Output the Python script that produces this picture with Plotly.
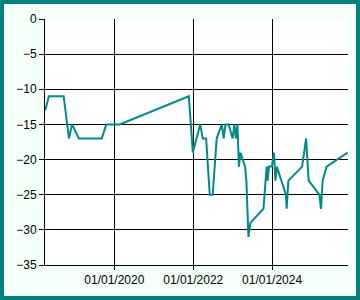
import plotly.graph_objects as go

dates = [
    "2018-04-01", "2018-05-05", "2018-09-19", "2018-11-07", "2018-12-05",
    "2019-02-07", "2019-09-06", "2019-10-19", "2020-02-19", "2021-11-21",
    "2021-12-28", "2022-03-06", "2022-03-30", "2022-04-30", "2022-06-03",
    "2022-06-30", "2022-08-06", "2022-09-22", "2022-10-10", "2022-10-26",
    "2022-11-25", "2023-01-01", "2023-01-17", "2023-01-31", "2023-02-14",
    "2023-02-28", "2023-03-14", "2023-04-06", "2023-04-26", "2023-05-08",
    "2023-05-27", "2023-06-14", "2023-10-13", "2023-11-12", "2023-11-21",
    "2023-12-02", "2023-12-30", "2024-01-18", "2024-02-01", "2024-02-14",
    "2024-05-08", "2024-05-15", "2024-05-31", "2024-10-05", "2024-11-11",
    "2024-12-05", "2025-03-14", "2025-03-29", "2025-04-13", "2025-05-20",
    "2025-12-01",
]
values = [
    -13, -11, -11, -17, -15,
    -17, -17, -15, -15, -11,
    -19, -15, -17, -17, -25,
    -25, -17, -15, -17, -15,
    -15, -17, -15, -17, -15,
    -21, -19, -20, -21, -23,
    -31, -29, -27, -21, -23,
    -21, -21, -19, -23, -21,
    -25, -27, -23, -21, -17,
    -23, -25, -27, -23, -21,
    -19,
]

x_tickvals = ["2020-01-01", "2022-01-01", "2024-01-01"]
x_ticktext = ["01/01/2020", "01/01/2022", "01/01/2024"]
x_range = ["2018-03-30", "2025-12-04"]
y_range = [-35, 0]

W, H = 360, 300
ML, MR, MT, MB = 45, 12, 19, 35
pw = W - ML - MR
ph = H - MT - MB

fig = go.Figure()
fig.add_trace(go.Scatter(
    x=dates, y=values, mode="lines",
    line=dict(color="#008B8B", width=2),
    hoverinfo="skip",
))

def px_x(p):
    return (p - ML) / pw

def px_y(p):
    return (H - MB - p) / ph

fig.add_shape(
    type="rect", xref="paper", yref="paper",
    x0=px_x(2), x1=px_x(W - 2), y0=px_y(2), y1=px_y(H - 2),
    line=dict(color="#008080", width=4), fillcolor="rgba(0,0,0,0)",
    layer="above",
)

fig.update_layout(
    width=W, height=H,
    margin=dict(l=ML, r=MR, t=MT, b=MB, pad=0),
    paper_bgcolor="#F5FFFA",
    plot_bgcolor="#FFFFFF",
    showlegend=False,
    font=dict(family="Liberation Sans, Arial, sans-serif", size=12, color="#000000"),
    xaxis=dict(
        range=x_range, type="date",
        tickvals=x_tickvals, ticktext=x_ticktext,
        showgrid=True, gridcolor="#000000", gridwidth=1,
        showline=True, linecolor="#000000", linewidth=1,
        ticks="outside", ticklen=4, tickcolor="#000000",
        zeroline=False, fixedrange=True,
    ),
    yaxis=dict(
        range=y_range, dtick=5, tick0=0,
        showgrid=True, gridcolor="#000000", gridwidth=1,
        showline=True, linecolor="#000000", linewidth=1,
        ticks="outside", ticklen=5, tickcolor="#000000",
        zeroline=False, fixedrange=True,
    ),
)

fig.write_html("out.html", config={"displayModeBar": False})
